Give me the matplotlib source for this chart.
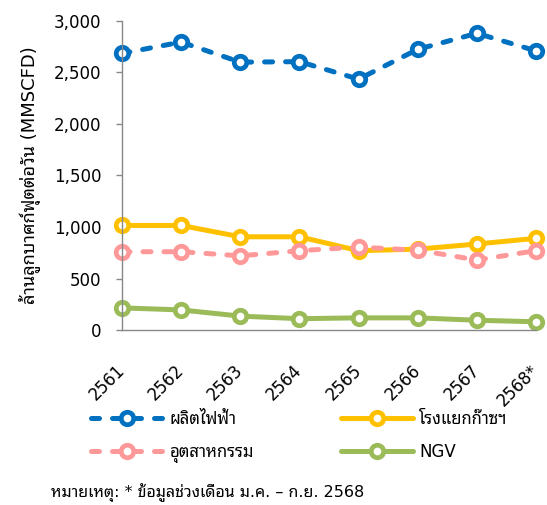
import matplotlib
matplotlib.use("Agg")
import matplotlib.pyplot as plt
from matplotlib import font_manager
from matplotlib.ticker import FuncFormatter
from matplotlib.transforms import ScaledTranslation

years = ["2561", "2562", "2563", "2564", "2565", "2566", "2567", "2568*"]
power = [2685, 2795, 2600, 2605, 2435, 2725, 2880, 2710]
gas_plant = [1015, 1015, 905, 905, 770, 785, 835, 890]
industry = [760, 760, 720, 770, 805, 775, 680, 770]
ngv = [215, 195, 135, 110, 118, 118, 95, 80]

labels = ["ผลิตไฟฟ้า", "โรงแยกก๊าซฯ", "อุตสาหกรรม", "NGV"]
colors = ["#0070C0", "#FFC000", "#FF9999", "#9BBB59"]

# pick a font that has Thai glyphs
names = {f.name for f in font_manager.fontManager.ttflist}
thai = "Anuphan"
for n in ["Noto Sans Thai Looped", "Sarabun", "Loma", "Garuda", "Noto Sans Thai", "Anuphan"]:
    if n in names:
        thai = n
        break
plt.rcParams["font.family"] = ["DejaVu Sans", thai]

fig = plt.figure(figsize=(5.47, 5.05), dpi=100)
ax = fig.add_axes([0.223, 0.3465, 0.757, 0.612])

x = list(range(len(years)))
dash = (0, (1.6, 2.6))
style = dict(lw=3.6, marker="o", ms=9, mfc="white", mew=3.4, clip_on=False,
             solid_capstyle="round", dash_capstyle="round")
l_power, = ax.plot(x, power, color=colors[0], ls=dash, label=labels[0], **style)
l_gas, = ax.plot(x, gas_plant, color=colors[1], ls="-", label=labels[1], **style)
l_ind, = ax.plot(x, industry, color=colors[2], ls=dash, label=labels[2], **style)
l_ngv, = ax.plot(x, ngv, color=colors[3], ls="-", label=labels[3], **style)

ax.set_xlim(0, len(years) - 1)
ax.set_ylim(0, 3000)
ax.set_yticks(range(0, 3001, 500))
ax.yaxis.set_major_formatter(FuncFormatter(lambda v, p: f"{int(v):,}"))
ax.set_xticks(x)
ax.set_xticklabels(years, rotation=45, ha="right", va="center", rotation_mode="anchor")
shift = ScaledTranslation(2 / 100, 0, fig.dpi_scale_trans)
for t in ax.get_xticklabels():
    t.set_transform(t.get_transform() + shift)

for s in ["top", "right"]:
    ax.spines[s].set_visible(False)
for s in ["left", "bottom"]:
    ax.spines[s].set_color("#888888")
    ax.spines[s].set_linewidth(1.0)
ax.tick_params(axis="y", length=4, width=1, color="#888888", labelsize=12, pad=11)
ax.tick_params(axis="x", length=0, labelsize=12, pad=27)

ax.set_ylabel("ล้านลูกบาศก์ฟุตต่อวัน (MMSCFD)", fontsize=13)
ax.yaxis.set_label_coords(-0.195, 0.5)

leg_kw = dict(loc="upper left", frameon=False, fontsize=12, handlelength=4.3,
              handletextpad=0.4, borderpad=0, borderaxespad=0, labelspacing=0.9)
leg1 = fig.legend(handles=[l_power, l_ind], bbox_to_anchor=(91 / 547, 1 - 410 / 505), **leg_kw)
leg2 = fig.legend(handles=[l_gas, l_ngv], bbox_to_anchor=(341 / 547, 1 - 410 / 505), **leg_kw)

fig.text(51 / 547, 1 - 493 / 505, "หมายเหตุ: * ข้อมูลช่วงเดือน ม.ค. – ก.ย. 2568",
         fontsize=11.5, va="center", ha="left")

fig.savefig("out.png", dpi=100)
